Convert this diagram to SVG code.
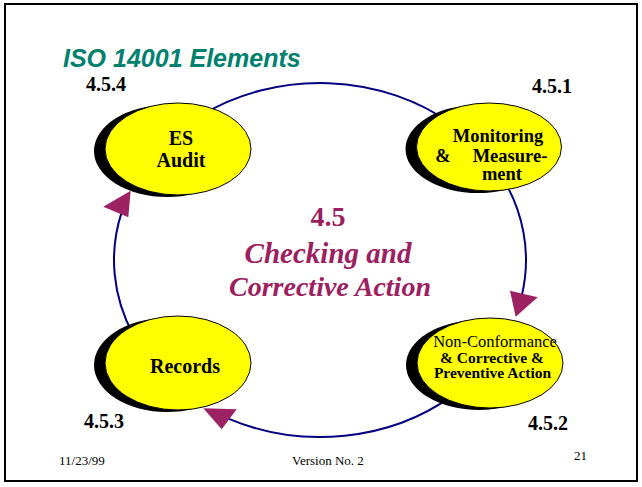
<svg xmlns="http://www.w3.org/2000/svg" width="642" height="487" viewBox="0 0 642 487">
<style>
.frame{fill:#fff;stroke:#000;stroke-width:2}
.title{font-family:"Liberation Sans",Arial,sans-serif;font-weight:bold;font-style:italic;font-size:25px;fill:#00806e}
.arc{fill:none;stroke:#000080;stroke-width:2}
.head{fill:#9c2263;stroke:none}
.shadow{fill:#000}
.face{fill:#ffff00;stroke:#000;stroke-width:1}
.nt{font-family:"Liberation Serif","Times New Roman",serif;font-weight:bold;fill:#000;text-anchor:middle}
.num{font-family:"Liberation Serif","Times New Roman",serif;font-weight:bold;font-size:20px;fill:#000}
.center{font-family:"Liberation Serif","Times New Roman",serif;font-weight:bold;fill:#9c2060;text-anchor:middle}
.foot{font-family:"Liberation Serif","Times New Roman",serif;font-size:13px;fill:#000}
</style>
<rect class="frame" x="5" y="4" width="632" height="477"/>
<text class="title" x="63" y="67">ISO 14001 Elements</text>

<g id="connectors">
  <path class="arc" d="M201.8,115 A206,177 0 0 1 452.4,124.4"/>
  <path class="arc" d="M498.4,171.5 A206,177 0 0 1 521.7,295.9"/>
  <path class="arc" d="M452.4,395.6 A206,177 0 0 1 229,418.8"/>
  <path class="arc" d="M133.3,334.8 A206,177 0 0 1 121.7,212.1"/>
  <polygon class="head" points="515.7,316.7 510,290.7 537.7,297.3"/>
  <polygon class="head" points="203.3,408.3 236.7,409.3 221.7,429.3"/>
  <polygon class="head" points="130.7,190.7 103.3,206.7 128.3,217.3"/>
</g>

<g id="node-audit">
  <ellipse class="shadow" cx="167" cy="151" rx="73" ry="46"/>
  <ellipse class="face" cx="178" cy="149" rx="73" ry="46"/>
  <text class="nt" font-size="20" x="181" y="145">ES</text>
  <text class="nt" font-size="20" x="181" y="167">Audit</text>
</g>
<g id="node-monitoring">
  <ellipse class="shadow" cx="478" cy="149" rx="72.5" ry="44"/>
  <ellipse class="face" cx="489" cy="147" rx="72.5" ry="44"/>
  <text class="nt" font-size="18.5" x="498" y="142">Monitoring</text>
  <text class="nt" font-size="18.5" x="443" y="161.5">&amp;</text>
  <text class="nt" font-size="18.5" x="510" y="161.5">Measure-</text>
  <text class="nt" font-size="18.5" x="502" y="179.5">ment</text>
</g>
<g id="node-records">
  <ellipse class="shadow" cx="167" cy="365" rx="73" ry="47"/>
  <ellipse class="face" cx="178" cy="363" rx="73" ry="47"/>
  <text class="nt" font-size="20" x="185" y="373">Records</text>
</g>
<g id="node-nonconformance">
  <ellipse class="shadow" cx="479" cy="365" rx="73" ry="45"/>
  <ellipse class="face" cx="490" cy="363" rx="73" ry="45"/>
  <text class="nt" font-size="16.5" style="font-weight:normal" x="495" y="346.5">Non-Conformance</text>
  <text class="nt" font-size="15.5" x="492" y="362.5">&amp; Corrective &amp;</text>
  <text class="nt" font-size="15.5" x="492.5" y="377.5">Preventive Action</text>
</g>

<text class="num" x="86" y="91">4.5.4</text>
<text class="num" x="532" y="93">4.5.1</text>
<text class="num" x="84" y="428">4.5.3</text>
<text class="num" x="528" y="430">4.5.2</text>

<text class="center" font-size="28" x="328" y="226">4.5</text>
<text class="center" font-size="29" font-style="italic" x="328" y="263">Checking and</text>
<text class="center" font-size="28" font-style="italic" x="330" y="296">Corrective Action</text>

<text class="foot" x="59" y="465">11/23/99</text>
<text class="foot" x="292" y="465">Version No. 2</text>
<text class="foot" x="574" y="460">21</text>
</svg>
